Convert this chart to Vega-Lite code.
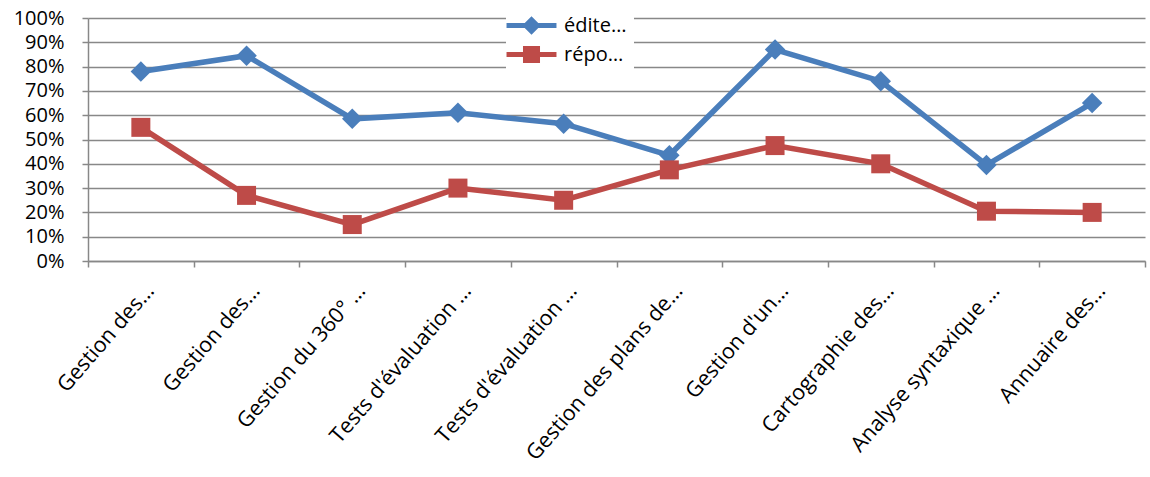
{
  "$schema": "https://vega.github.io/schema/vega-lite/v6.json",
  "width": 1057,
  "height": 243,
  "autosize": {"type": "none"},
  "padding": {"left": 88, "top": 18, "right": 5, "bottom": 216},
  "background": "white",
  "config": {"view": {"stroke": null}, "font": "Open Sans"},
  "data": {
    "values": [
      {"categorie": "Gestion des…", "serie": "édite…", "valeur": 0.78},
      {"categorie": "Gestion des…\u200b", "serie": "édite…", "valeur": 0.845},
      {"categorie": "Gestion du 360° …", "serie": "édite…", "valeur": 0.585},
      {"categorie": "Tests d'évaluation …", "serie": "édite…", "valeur": 0.61},
      {"categorie": "Tests d'évaluation …\u200b", "serie": "édite…", "valeur": 0.565},
      {"categorie": "Gestion des plans de…", "serie": "édite…", "valeur": 0.435},
      {"categorie": "Gestion d'un…", "serie": "édite…", "valeur": 0.87},
      {"categorie": "Cartographie des…", "serie": "édite…", "valeur": 0.74},
      {"categorie": "Analyse syntaxique …", "serie": "édite…", "valeur": 0.395},
      {"categorie": "Annuaire des…", "serie": "édite…", "valeur": 0.65},
      {"categorie": "Gestion des…", "serie": "répo…", "valeur": 0.55},
      {"categorie": "Gestion des…\u200b", "serie": "répo…", "valeur": 0.27},
      {"categorie": "Gestion du 360° …", "serie": "répo…", "valeur": 0.15},
      {"categorie": "Tests d'évaluation …", "serie": "répo…", "valeur": 0.30},
      {"categorie": "Tests d'évaluation …\u200b", "serie": "répo…", "valeur": 0.25},
      {"categorie": "Gestion des plans de…", "serie": "répo…", "valeur": 0.375},
      {"categorie": "Gestion d'un…", "serie": "répo…", "valeur": 0.475},
      {"categorie": "Cartographie des…", "serie": "répo…", "valeur": 0.40},
      {"categorie": "Analyse syntaxique …", "serie": "répo…", "valeur": 0.205},
      {"categorie": "Annuaire des…", "serie": "répo…", "valeur": 0.20}
    ]
  },
  "encoding": {
    "x": {
      "field": "categorie",
      "type": "nominal",
      "sort": null,
      "scale": {"type": "band", "paddingInner": 0, "paddingOuter": 0},
      "axis": {
        "title": null,
        "labelAngle": -49,
        "labelAlign": "right",
        "labelBaseline": "top",
        "labelFontSize": 21.5,
        "labelColor": "black",
        "labelPadding": 13,
        "labelOffset": 1,
        "labelLimit": 300,
        "tickBand": "extent",
        "tickSize": 6,
        "tickWidth": 1.5,
        "tickColor": "#888888",
        "domainColor": "#888888",
        "domainWidth": 1.5,
        "grid": false
      }
    },
    "y": {
      "field": "valeur",
      "type": "quantitative",
      "scale": {"domain": [0, 1]},
      "axis": {
        "title": null,
        "values": [0, 0.1, 0.2, 0.3, 0.4, 0.5, 0.6, 0.7, 0.8, 0.9, 1],
        "format": ".0%",
        "labelFontSize": 20,
        "labelColor": "black",
        "labelPadding": 18,
        "tickSize": 6,
        "tickWidth": 1.5,
        "tickColor": "#888888",
        "domainColor": "#888888",
        "domainWidth": 1.5,
        "grid": true,
        "gridColor": "#888888",
        "gridWidth": 1.5,
        "gridOpacity": 1
      }
    },
    "color": {
      "field": "serie",
      "type": "nominal",
      "scale": {"domain": ["édite…", "répo…"], "range": ["#4A7EBB", "#BE4B48"]},
      "legend": {
        "orient": "none",
        "legendX": 418,
        "legendY": -18,
        "title": null,
        "fillColor": "white",
        "padding": 7,
        "rowPadding": 0,
        "labelFontSize": 20,
        "labelColor": "black",
        "labelOffset": 14,
        "labelLimit": 200,
        "symbolSize": 1369,
        "symbolStrokeWidth": 0,
        "symbolOpacity": 1
      }
    }
  },
  "layer": [
    {
      "mark": {"type": "line", "strokeWidth": 5.5}
    },
    {
      "transform": [{"filter": "datum.serie === 'édite…'"}],
      "mark": {"type": "point", "filled": true, "opacity": 1, "size": 420, "shape": "diamond"}
    },
    {
      "transform": [{"filter": "datum.serie === 'répo…'"}],
      "mark": {"type": "point", "filled": true, "opacity": 1, "size": 361, "shape": "square"}
    },
    {
      "mark": {"type": "point", "filled": true, "opacity": 0, "size": 0},
      "encoding": {
        "shape": {
          "field": "serie",
          "type": "nominal",
          "scale": {
            "domain": ["édite…", "répo…"],
            "range": [
              "M-1.35,-0.14L1.35,-0.14L1.35,0.14L-1.35,0.14Z M0,-0.5L0.5,0L0,0.5L-0.5,0Z",
              "M-1.35,-0.14L1.35,-0.14L1.35,0.14L-1.35,0.14Z M-0.46,-0.46L0.46,-0.46L0.46,0.46L-0.46,0.46Z"
            ]
          },
          "legend": {
            "orient": "none",
            "legendX": 418,
            "legendY": -18,
            "title": null,
            "fillColor": "white",
            "padding": 7,
            "rowPadding": 0,
            "labelFontSize": 20,
            "labelColor": "black",
            "labelOffset": 14,
            "labelLimit": 200,
            "symbolSize": 1369,
            "symbolStrokeWidth": 0,
            "symbolOpacity": 1
          }
        }
      }
    }
  ]
}
